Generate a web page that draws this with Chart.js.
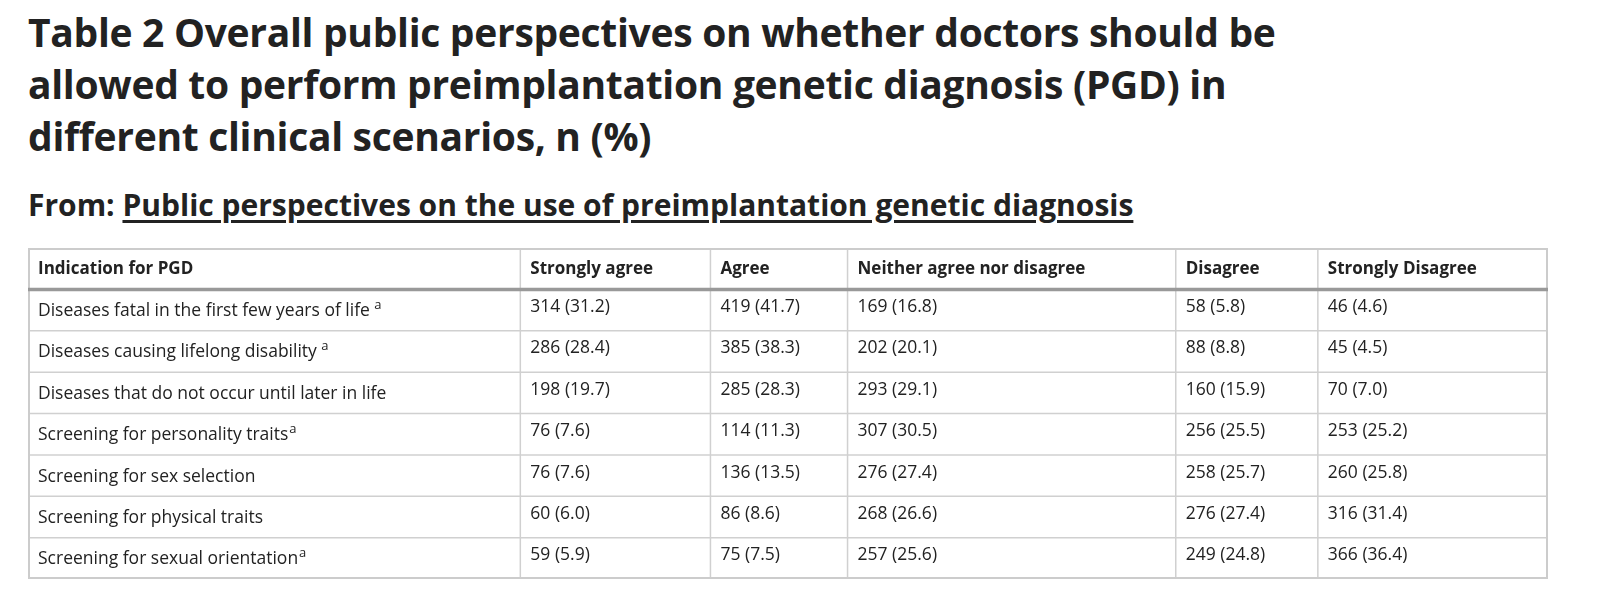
<!DOCTYPE html>
<html><head><meta charset="utf-8">
<script src="https://cdn.jsdelivr.net/npm/chart.js@4"></script>
<style>
body{margin:0;background:#fff;font-family:"Open Sans",sans-serif;color:#222;width:1610px;height:609px;overflow:hidden;position:relative}
h1{position:absolute;left:28px;top:6px;margin:0;font-size:39px;line-height:52px;font-weight:700;white-space:nowrap;color:#222;letter-spacing:-0.3px}
h2{position:absolute;left:28px;top:184px;margin:0;font-size:30px;font-weight:700;color:#222;white-space:nowrap}
h2 u{text-underline-offset:4px}
#c{position:absolute;left:28px;top:248px}
</style></head><body>
<h1>Table 2 Overall public perspectives on whether doctors should be<br>allowed to perform preimplantation genetic diagnosis (PGD) in<br>different clinical scenarios, n (%)</h1>
<h2>From: <u>Public perspectives on the use of preimplantation genetic diagnosis</u></h2>
<canvas id="c" width="1520" height="331"></canvas>
<script>
const headers=["Indication for PGD","Strongly agree","Agree","Neither agree nor disagree","Disagree","Strongly Disagree"];
const indications=["Diseases fatal in the first few years of life","Diseases causing lifelong disability","Diseases that do not occur until later in life","Screening for personality traits","Screening for sex selection","Screening for physical traits","Screening for sexual orientation"];
const footnoteA=[true,true,false,true,false,false,true];
const stronglyAgreeN=[314,286,198,76,76,60,59];
const stronglyAgreeP=[31.2,28.4,19.7,7.6,7.6,6.0,5.9];
const agreeN=[419,385,285,114,136,86,75];
const agreeP=[41.7,38.3,28.3,11.3,13.5,8.6,7.5];
const neitherN=[169,202,293,307,276,268,257];
const neitherP=[16.8,20.1,29.1,30.5,27.4,26.6,25.6];
const disagreeN=[58,88,160,256,258,276,249];
const disagreeP=[5.8,8.8,15.9,25.5,25.7,27.4,24.8];
const stronglyDisagreeN=[46,45,70,253,260,316,366];
const stronglyDisagreeP=[4.6,4.5,7.0,25.2,25.8,31.4,36.4];

const colEdges=[0,492,682,819,1147,1289,1519];
const rowLabels=["header"].concat(indications);
const cols=[[stronglyAgreeN,stronglyAgreeP],[agreeN,agreeP],[neitherN,neitherP],[disagreeN,disagreeP],[stronglyDisagreeN,stronglyDisagreeP]];
const F='"Open Sans"';
const tablePlugin={id:'table',afterDraw(chart){
  const ctx=chart.ctx,x=chart.scales.x,y=chart.scales.y;
  const n=rowLabels.length;
  const bw=(y.getPixelForValue(1)-y.getPixelForValue(0));
  const top=y.getPixelForValue(0)-bw/2, bot=y.getPixelForValue(n-1)+bw/2;
  const L=x.getPixelForValue(colEdges[0]),R=x.getPixelForValue(colEdges[colEdges.length-1]);
  ctx.save();
  ctx.strokeStyle='#d0d0d0';ctx.lineWidth=1.5;
  for(let i=1;i<n-1;i++){const yy=y.getPixelForValue(i)+bw/2;ctx.beginPath();ctx.moveTo(L,yy);ctx.lineTo(R,yy);ctx.stroke();}
  colEdges.slice(1,-1).forEach(e=>{const xx=x.getPixelForValue(e);ctx.beginPath();ctx.moveTo(xx,top);ctx.lineTo(xx,bot);ctx.stroke();});
  ctx.strokeStyle='#ccc';ctx.lineWidth=2;ctx.strokeRect(L+1,top+1,R-L-2,bot-top-2);
  ctx.strokeStyle='#999';ctx.lineWidth=3.5;
  const hy=y.getPixelForValue(0)+bw/2;ctx.beginPath();ctx.moveTo(L,hy);ctx.lineTo(R,hy);ctx.stroke();
  ctx.fillStyle='#222';ctx.textBaseline='middle';ctx.textAlign='left';
  ctx.font='bold 17px '+F;
  headers.forEach((h,j)=>ctx.fillText(h,x.getPixelForValue(colEdges[j])+10,y.getPixelForValue(0)));
  for(let i=0;i<indications.length;i++){
    const yy=y.getPixelForValue(i+1);
    ctx.font='17.5px '+F;
    const tx=x.getPixelForValue(colEdges[0])+10;
    ctx.fillText(indications[i],tx,yy+1);
    if(footnoteA[i]){const w=ctx.measureText(indications[i]).width;ctx.font='13px '+F;ctx.fillText(i==3||i==6?'a':' a',tx+w+1,yy-5);}
    ctx.font='17.5px '+F;
    cols.forEach((c,j)=>ctx.fillText(c[0][i]+' ('+c[1][i].toFixed(1)+')',x.getPixelForValue(colEdges[j+1])+10,yy-3));
  }
  ctx.restore();
}};
new Chart(document.getElementById('c'),{type:'scatter',data:{datasets:[{data:[]}]},
 options:{responsive:false,animation:false,events:[],layout:{padding:0},
  plugins:{legend:{display:false},tooltip:{enabled:false}},
  scales:{x:{type:'linear',min:colEdges[0],max:colEdges[colEdges.length-1],display:false},
          y:{type:'category',labels:rowLabels,offset:true,display:false}}},
 plugins:[tablePlugin]});
</script></body></html>
